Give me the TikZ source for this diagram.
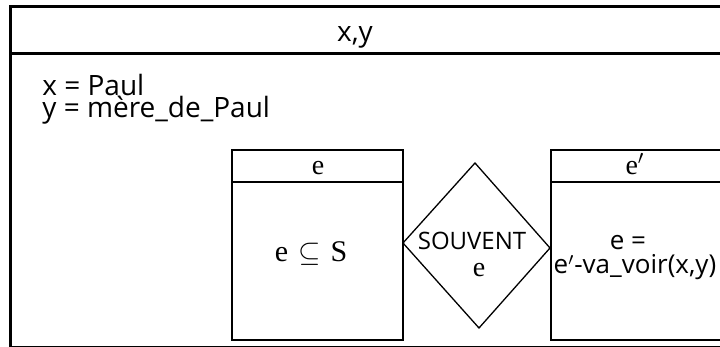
\documentclass[tikz,border=0pt]{standalone}
\usepackage{amsmath}
\usepackage{amssymb}
\usepackage{fontspec}
\setmainfont{Open Sans}
\newfontfamily\serifE{Liberation Serif}
\usepackage{tikz}

\begin{document}
\begin{tikzpicture}[x=0.5pt, y=-0.5pt, every node/.style={font=\fontsize{14}{9}\selectfont, inner sep=0pt, anchor=base}]
                \useasboundingbox (0,0) rectangle (720,347);
                \clip (0,0) rectangle (720,347);

                \draw[line width=1.5pt] (11,7) rectangle (780,348);
                \draw[line width=1.5pt] (11,54) -- (780,54);
                \node (titre) at (355,42) {x,y};
                \node[anchor=base west] (condX) at (42,96) {x = Paul};
                \node[anchor=base west] (condY) at (42,118) {y = mère\_de\_Paul};

                \draw[line width=1pt] (232,150) rectangle (403,340);
                \draw[line width=1pt] (232,182) -- (403,182);
                \node[font=\serifE\fontsize{14}{9}\selectfont] (refE) at (318,175) {e};
                \node[font=\serifE\fontsize{15}{9}\selectfont] (condE) at (311,262) {e\,\,$\subseteq$\,\,S};

                \draw[line width=1pt] (551,150) rectangle (780,340);
                \draw[line width=1pt] (551,182) -- (780,182);
                \node[font=\serifE\fontsize{14}{9}\selectfont] (refEp) at (635,175) {e$'$};
                \node[font=\fontsize{13}{9}\selectfont] (condEa) at (628,250) {e =};
                \node[font=\fontsize{13}{9}\selectfont] (condEb) at (635,274) {e$'$-va\_voir(x,y)};

                \draw[line width=0.65pt] (403,243) -- (475,163) -- (550,248) -- (479,328) -- cycle;
                \node[font=\fontsize{12}{9}\selectfont] (souvent) at (472,250) {SOUVENT};
                \node[font=\serifE\fontsize{14}{9}\selectfont] (souventE) at (479,277) {e};
            \end{tikzpicture}
\end{document}
